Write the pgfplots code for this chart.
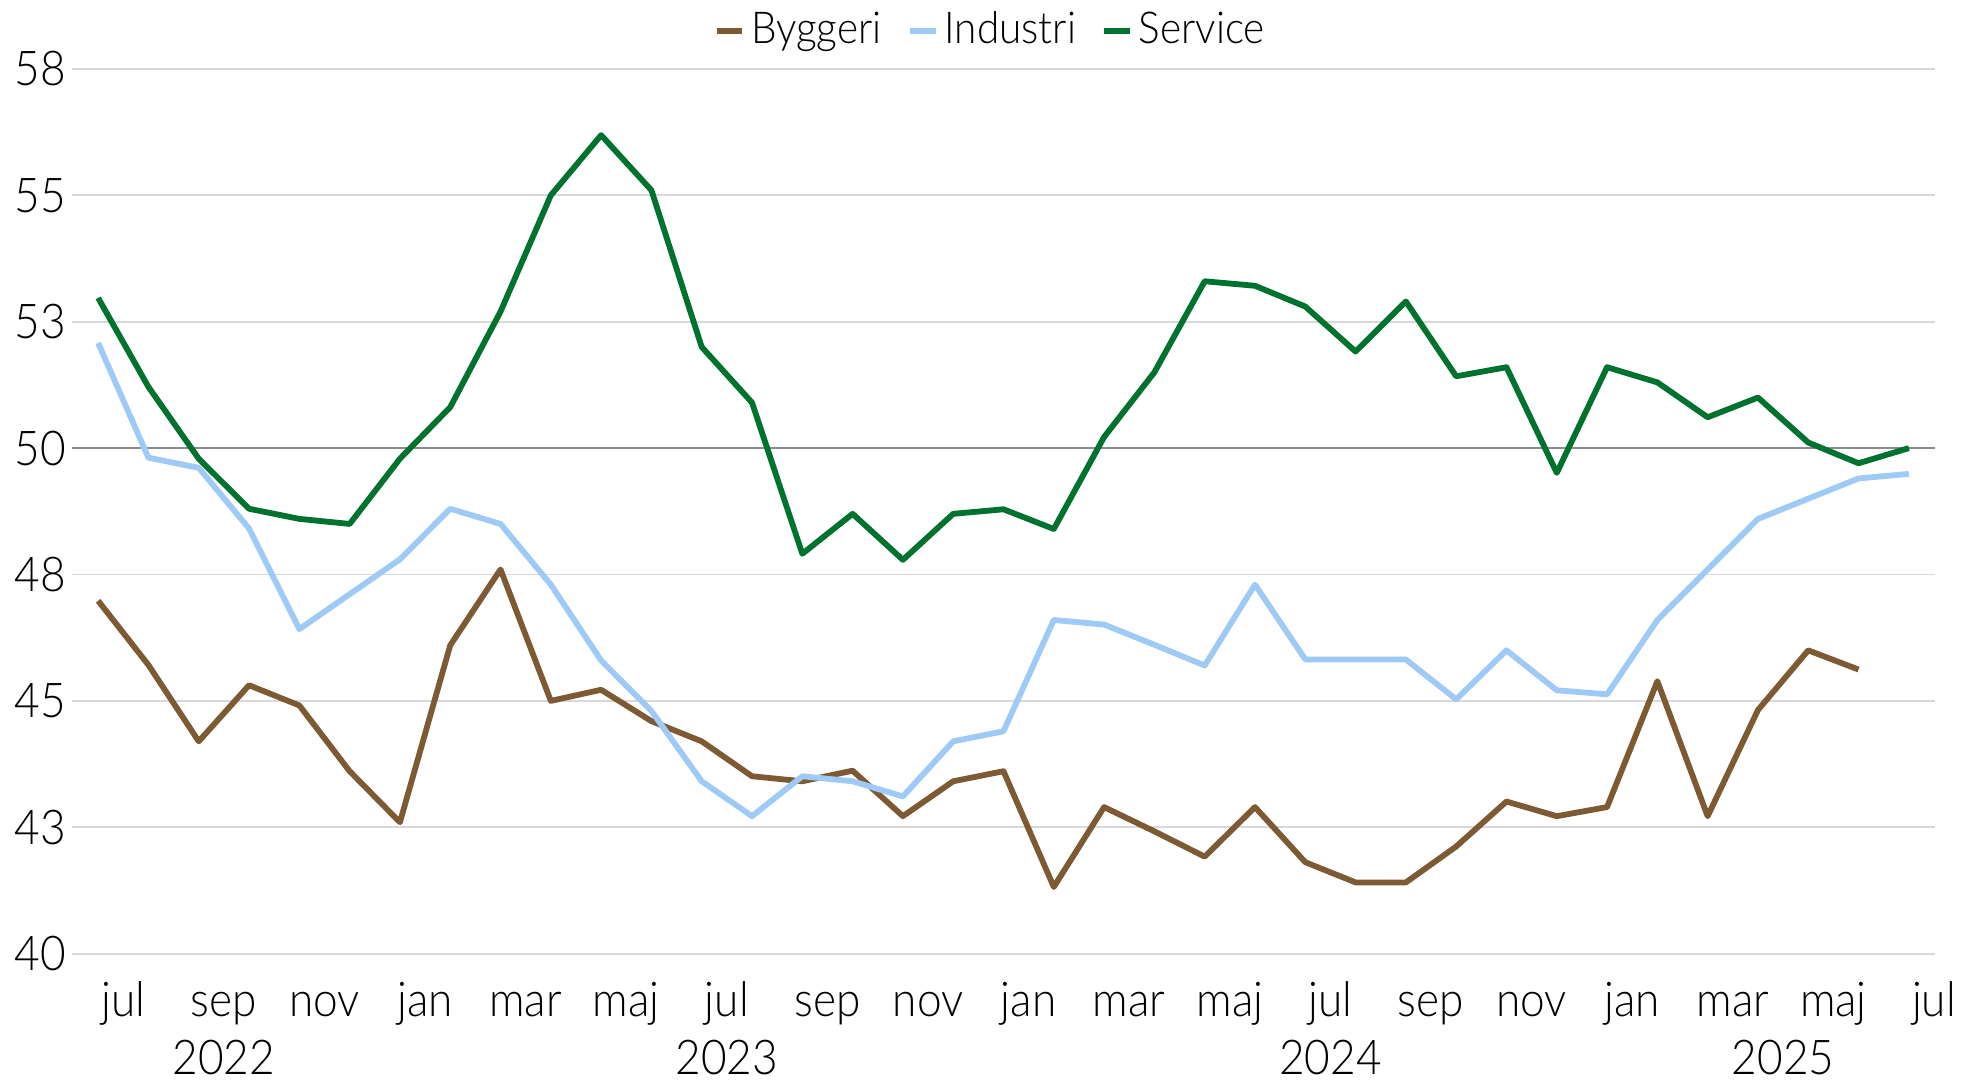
\documentclass[border=0pt]{standalone}
\usepackage{fontspec}
\setmainfont{Lato}[UprightFont={* Light}, FakeStretch=0.92]
\usepackage{pgfplots}
\pgfplotsset{compat=1.18}
\usetikzlibrary{calc}
\definecolor{bygg}{HTML}{7C5B34}
\definecolor{indu}{HTML}{9FCAF6}
\definecolor{serv}{HTML}{00722F}
\definecolor{gridc}{HTML}{D9D9D9}
\definecolor{fifty}{HTML}{8C8C8C}

\pgfplotstableread{
m v
0 52.97
1 51.21
2 49.79
3 48.80
4 48.60
5 48.50
6 49.79
7 50.81
8 52.70
9 55.00
10 56.19
11 55.10
12 52.00
13 50.90
14 47.91
15 48.70
16 47.79
17 48.70
18 48.79
19 48.40
20 50.22
21 51.50
22 53.30
23 53.21
24 52.80
25 51.91
26 52.90
27 51.42
28 51.60
29 49.51
30 51.60
31 51.30
32 50.61
33 51.00
34 50.11
35 49.70
36 50.00
}\service

\pgfplotstableread{
m v
0 52.08
1 49.81
2 49.61
3 48.41
4 46.42
5 47.11
6 47.80
7 48.80
8 48.50
9 47.30
10 45.80
11 44.80
12 43.41
13 42.72
14 43.51
15 43.41
16 43.11
17 44.20
18 44.40
19 46.60
20 46.51
21 46.11
22 45.70
23 47.30
24 45.82
25 45.82
26 45.82
27 45.03
28 46.00
29 45.21
30 45.13
31 46.60
32 47.60
33 48.60
34 49.00
35 49.40
36 49.49
}\industri

\pgfplotstableread{
m v
0 46.98
1 45.71
2 44.20
3 45.31
4 44.91
5 43.61
6 42.60
7 46.10
8 47.60
9 45.00
10 45.22
11 44.60
12 44.20
13 43.51
14 43.41
15 43.62
16 42.72
17 43.41
18 43.61
19 41.32
20 42.90
21 42.42
22 41.92
23 42.90
24 41.81
25 41.41
26 41.41
27 42.12
28 43.01
29 42.72
30 42.90
31 45.39
32 42.72
33 44.82
34 46.00
35 45.62
}\byggeri

\begin{document}
\begin{tikzpicture}
\begin{axis}[
  scale only axis,
  width=465.75pt, height=221.2pt,
  xmin=-0.52, xmax=36.52, ymin=40, ymax=57.5,
  clip=false,
  axis line style={draw=none},
  major tick length=0pt,
  ytick={40,42.5,45,47.5,52.5,55,57.5},
  yticklabels={40,43,45,48,53,55,58},
  extra y ticks={50},
  extra y tick labels={50},
  extra y tick style={grid style={color=fifty, line width=0.5pt}},
  ymajorgrids,
  grid style={color=gridc, line width=0.45pt},
  xtick={0.5,2.5,...,36.5},
  xticklabels={jul,sep,nov,jan,mar,maj,jul,sep,nov,jan,mar,maj,jul,sep,nov,jan,mar,maj,jul},
  tick label style={font=\fontsize{12}{14}\selectfont},
  yticklabel style={anchor=east, inner xsep=0pt, xshift=-1.3pt},
  xticklabel style={anchor=base, yshift=-15.8pt},
  legend columns=-1,
  legend style={draw=none, fill=none, at={(0.494,1.043)}, anchor=center,
    font=\fontsize{11}{13}\selectfont,
    nodes={inner xsep=1.5pt},
    /tikz/every even column/.append style={column sep=4.8pt}},
  legend image code/.code={\draw[#1, line width=1.5pt] (0pt,0pt) -- (6.4pt,0pt);},
  every axis plot/.append style={line width=1.45pt, line join=round, no markers},
]
\addplot[color=bygg] table[x=m, y=v] {\byggeri};
\addlegendentry{Byggeri}
\addplot[color=indu] table[x=m, y=v] {\industri};
\addlegendentry{Industri}
\addplot[color=serv] table[x=m, y=v] {\service};
\addlegendentry{Service}
\coordinate (BL) at (rel axis cs:0,0);
\coordinate (TR) at (rel axis cs:1,1);
\node[anchor=base, yshift=-30.1pt, font=\fontsize{12}{14}\selectfont] at (axis cs:2.5,40) {2022};
\node[anchor=base, yshift=-30.1pt, font=\fontsize{12}{14}\selectfont] at (axis cs:12.5,40) {2023};
\node[anchor=base, yshift=-30.1pt, font=\fontsize{12}{14}\selectfont] at (axis cs:24.5,40) {2024};
\node[anchor=base, yshift=-30.1pt, font=\fontsize{12}{14}\selectfont] at (axis cs:33.5,40) {2025};
\end{axis}
\pgfresetboundingbox
\path[use as bounding box] ($(BL)+(-18pt,-31.83pt)$) rectangle ($(TR)+(7.5pt,17.23pt)$);
\end{tikzpicture}
\end{document}
